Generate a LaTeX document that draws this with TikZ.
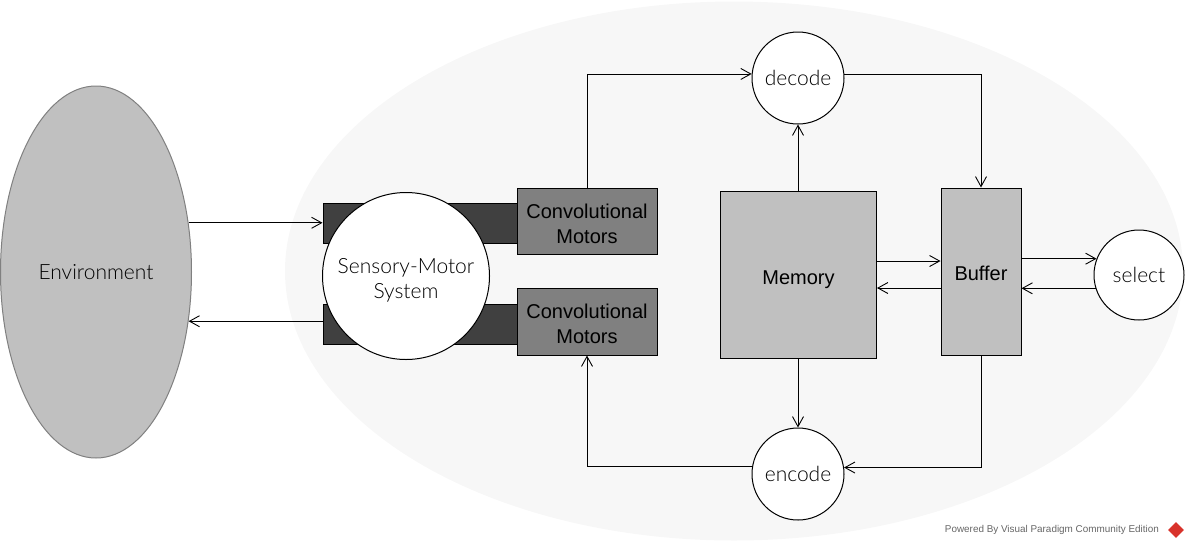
\documentclass[tikz,border=0pt]{standalone}
\usepackage{fontspec}
\setmainfont{Liberation Sans}
\newfontfamily\lightf{Lato Light}
\usetikzlibrary{shapes.geometric,arrows.meta}
\definecolor{bgell}{HTML}{F7F7F7}
\definecolor{envfill}{HTML}{C0C0C0}
\definecolor{envline}{HTML}{808080}
\definecolor{darkbar}{HTML}{404040}
\definecolor{convfill}{HTML}{808080}
\definecolor{memfill}{HTML}{C0C0C0}
\definecolor{vpred}{HTML}{D8322B}
\newcommand{\lowr}[2]{\raisebox{-#1}[\height][\depth]{#2}}
\newcommand{\twol}[2]{\begin{tabular}{@{}c@{}}#1\\#2\end{tabular}}
\tikzset{
  lighttext/.style={font=\lightf\fontsize{21}{25}\selectfont, align=center, text=black},
  boxtext/.style={font=\fontsize{20}{25}\selectfont, align=center},
  procc/.style={circle, draw=black, fill=white, line width=1pt, inner sep=0pt, minimum size=#1, lighttext},
  rectbox/.style={rectangle, draw=black, line width=1pt, inner sep=0pt, boxtext},
  barbox/.style={rectangle, draw=black, fill=darkbar, line width=1pt, inner sep=0pt, minimum width=194pt, minimum height=40pt},
  arr/.style={line width=0.9pt, -{Straight Barb[length=10pt,width=11pt,line width=0.9pt]}},
}
\begin{document}
\begin{tikzpicture}[x=1pt,y=-1pt]
\useasboundingbox (0,0) rectangle (1188,547);
% background ellipse
\node[ellipse, fill=bgell, minimum width=898pt, minimum height=539pt, inner sep=0pt] (bg) at (734,271) {};
% environment
\node[ellipse, draw=envline, fill=envfill, line width=1pt, minimum width=191pt, minimum height=372pt, inner sep=0pt, lighttext] (env) at (96,272) {Environment};
% bars
\node[barbox] (barT) at (420,223) {};
\node[barbox] (barB) at (420,324) {};
% sensory-motor system
\node[procc=167pt] (sms) at (406,276) {\lowr{4.5pt}{\twol{Sensory-Motor}{System}}};
% convolutional motors
\node[rectbox, fill=convfill, minimum width=140pt, minimum height=66pt] (convT) at (587,221) {\lowr{5pt}{\twol{Convolutional}{Motors}}};
\node[rectbox, fill=convfill, minimum width=140pt, minimum height=67pt] (convB) at (587,321.5) {\lowr{4.5pt}{\twol{Convolutional}{Motors}}};
% memory and buffer
\node[rectbox, fill=memfill, minimum width=156pt, minimum height=167pt] (mem) at (798.5,274.5) {\lowr{5pt}{Memory}};
\node[rectbox, fill=memfill, minimum width=80pt, minimum height=167pt] (buf) at (981,271.5) {\lowr{2pt}{Buffer}};
% decode, encode, select
\node[procc=92pt] (dec) at (798,78) {decode};
\node[procc=92pt] (enc) at (798,474) {encode};
\node[procc=90pt] (sel) at (1139,275) {select};
% connectors
\draw[arr] (env.28.5) -- (env.28.5 -| barT.west);
\draw[arr] (env.-28.5 -| barB.west) -- (env.-28.5);
\draw[arr] (convT.north) |- (dec.175);
\draw[arr] (dec.5) -| (buf.north);
\draw[arr] (mem.north -| dec.south) -- (dec.south);
\draw[arr] ([yshift=13.5pt]mem.east) -- ([yshift=13.5pt]mem.east -| buf.west);
\draw[arr] ([yshift=-16.5pt]buf.west) -- ([yshift=-16.5pt]buf.west -| mem.east);
\draw[arr] (sel.159 -| buf.east) -- (sel.159);
\draw[arr] (sel.197) -- (sel.197 -| buf.east);
\draw[arr] (mem.south -| enc.north) -- (enc.north);
\draw[arr] (buf.south) |- (enc.8.7);
\draw[arr] (enc.171.3) -| (convB.south);
% watermark
\node[anchor=east, font=\fontsize{9.9}{11}\selectfont, text=black!60, inner sep=0pt] (wm) at (1159,530) {Powered By Visual Paradigm Community Edition};
\node[diamond, fill=vpred, minimum size=16pt, inner sep=0pt] (logo) at (1176,530) {};
\end{tikzpicture}
\end{document}
